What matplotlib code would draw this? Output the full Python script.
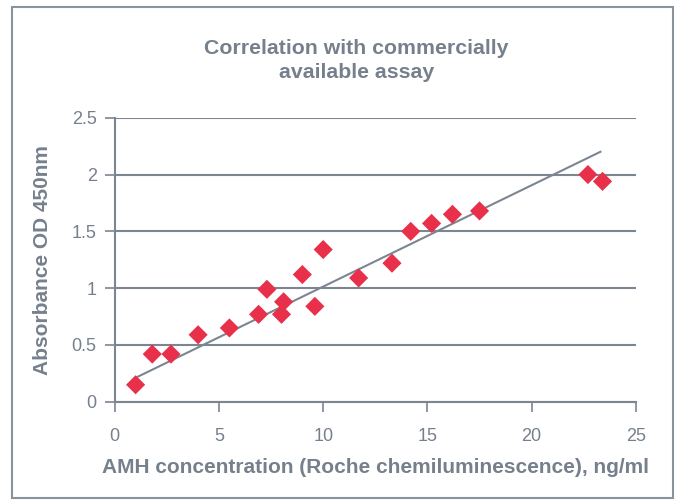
import numpy as np
import matplotlib.pyplot as plt
from matplotlib.patches import Rectangle

# AMH (Roche) ng/ml vs absorbance OD 450nm
amh_roche = [1.0, 1.8, 2.7, 4.0, 5.5, 6.9, 7.3, 8.0, 8.1, 9.0, 9.6, 10.0,
             11.7, 13.3, 14.2, 15.2, 16.2, 17.5, 22.7, 23.4]
od450 = [0.15, 0.42, 0.42, 0.59, 0.65, 0.77, 0.99, 0.77, 0.88, 1.12, 0.84, 1.34,
         1.09, 1.22, 1.50, 1.57, 1.65, 1.68, 2.00, 1.94]
# trend line as shown on the chart
trend_slope = 0.0892
trend_intercept = 0.122
trend_range = [1.1, 23.3]

x_ticks = [0, 5, 10, 15, 20, 25]
y_ticks = [0, 0.5, 1, 1.5, 2, 2.5]
y_tick_labels = ["0", "0.5", "1", "1.5", "2", "2.5"]

gray = "#7b8692"
text_gray = "#76808c"
red = "#e8304a"

plt.rcParams["font.family"] = ["Liberation Sans", "DejaVu Sans"]

fig = plt.figure(figsize=(6.83, 5.01), dpi=100)
ax = fig.add_axes([0.168, 0.198, 0.763, 0.567])

xl = np.array(trend_range)
ax.plot(xl, trend_slope * xl + trend_intercept, color=gray, lw=1.5, zorder=2)

ax.scatter(amh_roche, od450, marker="D", s=95, color=red, edgecolors="none", zorder=3)

ax.set_xlim(0, 25)
ax.set_ylim(0, 2.5)
ax.set_xticks(x_ticks)
ax.set_yticks(y_ticks)
ax.set_yticklabels(y_tick_labels)
ax.grid(axis="y", color=gray, lw=1.5)
ax.set_axisbelow(True)
for s in ["top", "right"]:
    ax.spines[s].set_visible(False)
for s in ["left", "bottom"]:
    ax.spines[s].set_color(gray)
    ax.spines[s].set_linewidth(1.5)
ax.tick_params(axis="both", colors=gray, labelcolor=text_gray, labelsize=13,
               width=1.2, length=7)
ax.tick_params(axis="x", pad=12)
ax.tick_params(axis="y", pad=6)

ax.set_xlabel("AMH concentration (Roche chemiluminescence), ng/ml",
              fontsize=15, fontweight="bold", color=text_gray, labelpad=9)
ax.set_ylabel("Absorbance OD 450nm", fontsize=15, fontweight="bold",
              color=text_gray, labelpad=14)

fig.text(0.522, 0.879, "Correlation with commercially\navailable assay", ha="center",
         va="center", fontsize=15.3, fontweight="bold", color=text_gray,
         linespacing=1.35)

fig.patches.append(Rectangle((0.0176, 0.006), 0.968, 0.98, transform=fig.transFigure,
                             fill=False, edgecolor="#8a939c", lw=1.5))

fig.savefig("out.png", dpi=100)
